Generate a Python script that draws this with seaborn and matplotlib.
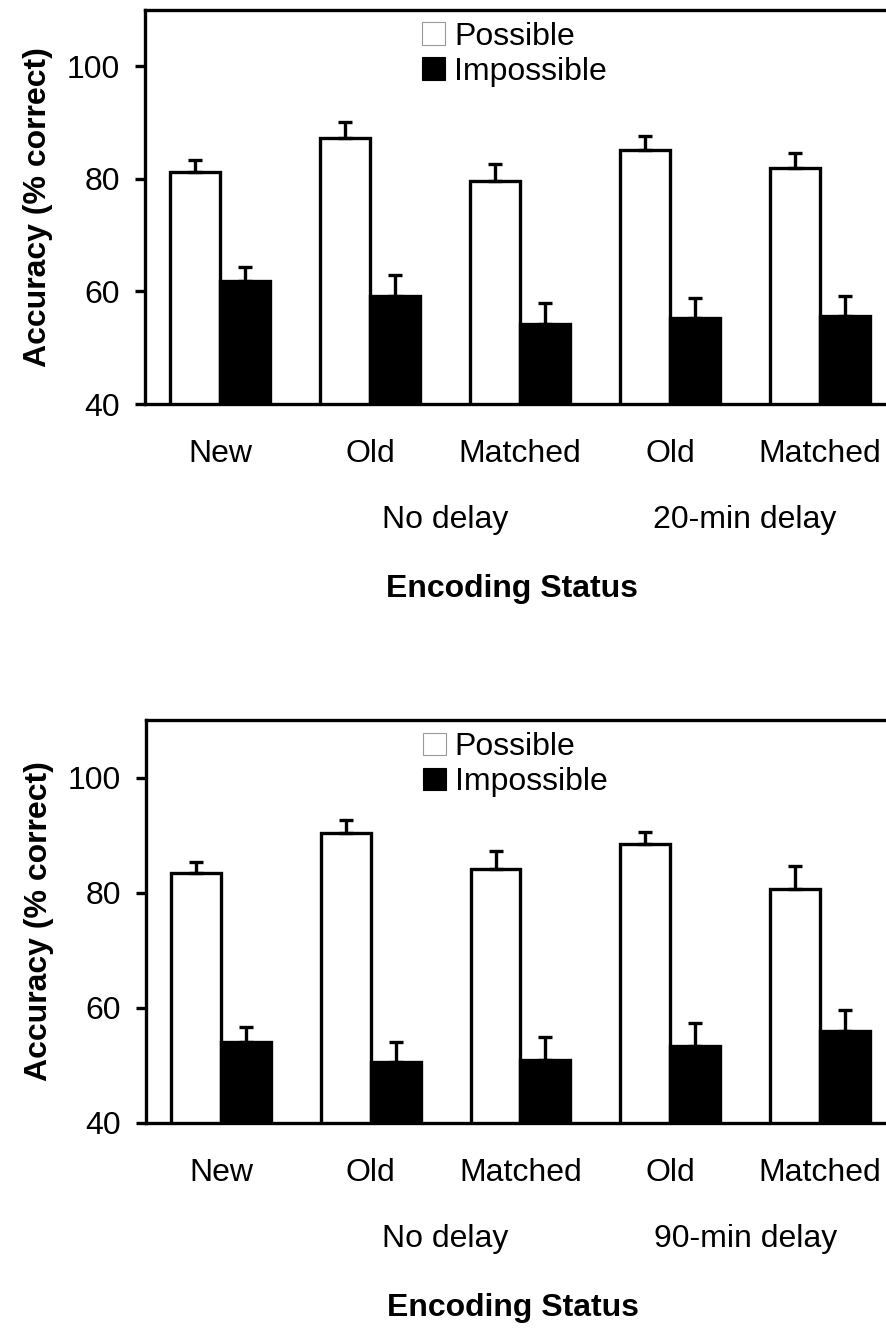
import matplotlib
matplotlib.use("Agg")
import matplotlib.pyplot as plt
from matplotlib.patches import Patch
import pandas as pd
import seaborn as sb

# x categories (same labels repeat, so keep unique keys)
status_keys = ["new", "old_now", "matched_now", "old_later", "matched_later"]
status_labels = ["New", "Old", "Matched", "Old", "Matched"]
conditions = ["Possible", "Impossible"]

# top panel (20-min delay)
top_possible = [81.3, 87.3, 79.7, 85.2, 81.9]
top_possible_err = [2.1, 2.8, 2.9, 2.5, 2.7]
top_impossible = [61.9, 59.2, 54.2, 55.2, 55.7]
top_impossible_err = [2.5, 3.8, 3.7, 3.6, 3.4]

# bottom panel (90-min delay)
bot_possible = [83.4, 90.4, 84.2, 88.5, 80.6]
bot_possible_err = [1.9, 2.2, 3.0, 2.0, 4.1]
bot_impossible = [54.0, 50.6, 51.0, 53.4, 55.9]
bot_impossible_err = [2.7, 3.5, 4.0, 3.9, 3.7]

sb.set_style("white")
plt.rcParams["font.family"] = ["Liberation Sans", "DejaVu Sans"]
plt.rcParams["text.color"] = "black"
plt.rcParams["axes.labelcolor"] = "black"
plt.rcParams["xtick.color"] = "black"
plt.rcParams["ytick.color"] = "black"

LW = 2.4


def draw_panel(ax, possible, possible_err, impossible, impossible_err, delay_label):
    df = pd.DataFrame({
        "Status": status_keys * 2,
        "Condition": ["Possible"] * 5 + ["Impossible"] * 5,
        "Accuracy": possible + impossible,
    })
    sb.barplot(data=df, x="Status", y="Accuracy", hue="Condition",
               order=status_keys, hue_order=conditions,
               palette=["white", "black"], edgecolor="black", linewidth=LW,
               width=2 / 3, errorbar=None, legend=False, ax=ax)

    # one-sided error bars on top of each bar
    for cont, errs in zip(list(ax.containers), [possible_err, impossible_err]):
        xs = [b.get_x() + b.get_width() / 2 for b in cont]
        ys = [b.get_height() for b in cont]
        ax.errorbar(xs, ys, yerr=[[0] * len(errs), errs], fmt="none",
                    ecolor="black", elinewidth=LW, capsize=5, capthick=LW,
                    zorder=3)

    ax.set_ylim(40, 110)
    ax.set_yticks([40, 60, 80, 100])
    ax.set_xlim(-0.5, 4.44)
    ax.set_xticks(range(5))
    ax.set_xticklabels(status_labels)
    ax.tick_params(axis="y", direction="out", length=7.2, width=LW,
                   pad=11, labelsize=23, left=True)
    ax.tick_params(axis="x", length=0, pad=25, labelsize=23)

    for side in ["top", "left", "bottom"]:
        ax.spines[side].set_linewidth(LW)
        ax.spines[side].set_color("black")
    ax.spines["right"].set_visible(False)

    ax.set_xlabel("")
    ax.set_ylabel("Accuracy (% correct)", fontsize=23, fontweight="bold")
    ax.yaxis.set_label_coords(-0.144, 0.5)
    ax.yaxis.label.set_verticalalignment("center")

    ax.annotate("No delay", xy=(1.5, 0), xycoords=("data", "axes fraction"),
                xytext=(0, -116), textcoords="offset pixels",
                ha="center", va="center", fontsize=23)
    ax.annotate(delay_label, xy=(3.5, 0), xycoords=("data", "axes fraction"),
                xytext=(0, -116), textcoords="offset pixels",
                ha="center", va="center", fontsize=23)
    ax.annotate("Encoding Status", xy=(1.95, 0), xycoords=("data", "axes fraction"),
                xytext=(0, -185), textcoords="offset pixels",
                ha="center", va="center", fontsize=23, fontweight="bold")

    handles = [Patch(facecolor="white", edgecolor="#999999", linewidth=0.8),
               Patch(facecolor="black", edgecolor="black", linewidth=0.8)]
    ax.legend(handles, conditions, loc="upper left",
              bbox_to_anchor=(0.374, 0.97), frameon=False, fontsize=23,
              handlelength=0.72, handleheight=0.72, handletextpad=0.28,
              labelspacing=0.16, borderpad=0, borderaxespad=0)


fig = plt.figure(figsize=(8.86, 13.28), dpi=100)
W, H = 886, 1328
ax1 = fig.add_axes([145 / W, 1 - 404 / H, (W - 145) / W, 394 / H])
ax2 = fig.add_axes([146 / W, 1 - 1123 / H, (W - 146) / W, 403 / H])

draw_panel(ax1, top_possible, top_possible_err, top_impossible, top_impossible_err,
           "20-min delay")
draw_panel(ax2, bot_possible, bot_possible_err, bot_impossible, bot_impossible_err,
           "90-min delay")

fig.savefig("out.png", dpi=100)
